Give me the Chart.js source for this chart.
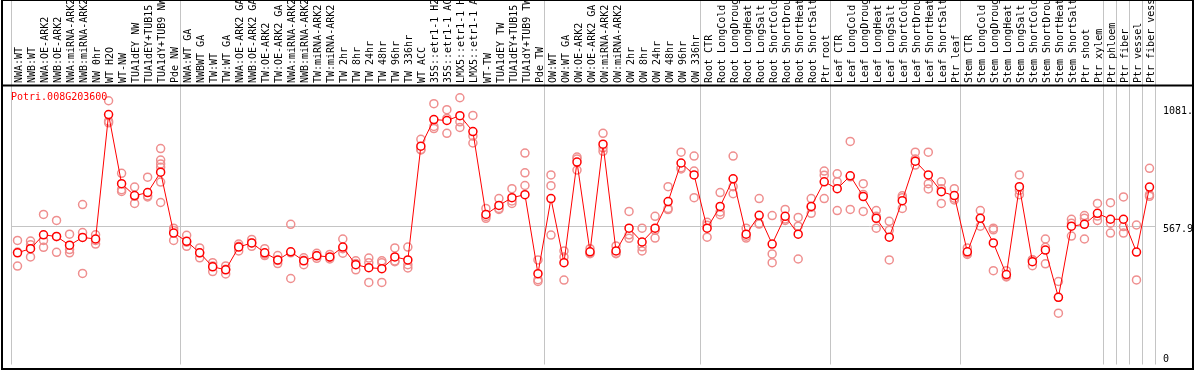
<!DOCTYPE html>
<html>
<head>
<meta charset="utf-8">
<script src="https://cdn.jsdelivr.net/npm/chart.js@4/dist/chart.umd.min.js"></script>
<style>
  html, body { margin: 0; padding: 0; background: #fff; }
</style>
</head>
<body>
<canvas id="exprChart" width="1194" height="370"></canvas>
<script>
const geneName = 'Potri.008G203600';

const categories = [
  'NWA:WT', 'NWB:WT', 'NWA:OE-ARK2', 'NWB:OE-ARK2', 'NWA:miRNA-ARK2', 'NWB:miRNA-ARK2',
  'NW 0hr', 'WT H2O', 'WT-NW', 'TUA1dEY NW', 'TUA1dEY+TUB15 NW', 'TUA1dY+TUB9 NW', 'Pde NW',
  'NWA:WT GA', 'NWBWT GA', 'TW:WT', 'TW:WT GA', 'NWA:OE-ARK2 GA', 'NWB:OE-ARK2 GA',
  'TW:OE-ARK2', 'TW:OE-ARK2 GA', 'NWA:miRNA-ARK2', 'NWB:miRNA-ARK2', 'TW:miRNA-ARK2',
  'TW:miRNA-ARK2', 'TW 2hr', 'TW 8hr', 'TW 24hr', 'TW 48hr', 'TW 96hr', 'TW 336hr', 'WT ACC',
  '35S::etr1-1 H2O', '35S::etr1-1 ACC', 'LMX5::etr1-1 H2O', 'LMX5::etr1-1 ACC', 'WT-TW',
  'TUA1dEY TW', 'TUA1dEY+TUB15 TW', 'TUA1dY+TUB9 TW', 'Pde TW',
  'OW:WT', 'OW:WT GA', 'OW:OE-ARK2', 'OW:OE-ARK2 GA', 'OW:miRNA-ARK2', 'OW:miRNA-ARK2',
  'OW 2hr', 'OW 8hr', 'OW 24hr', 'OW 48hr', 'OW 96hr', 'OW 336hr',
  'Root CTR', 'Root LongCold', 'Root LongDrought', 'Root LongHeat', 'Root LongSalt',
  'Root ShortCold', 'Root ShortDrought', 'Root ShortHeat', 'Root ShortSalt', 'Ptr root',
  'Leaf CTR', 'Leaf LongCold', 'Leaf LongDrought', 'Leaf LongHeat', 'Leaf LongSalt',
  'Leaf ShortCold', 'Leaf ShortDrought', 'Leaf ShortHeat', 'Leaf ShortSalt', 'Ptr leaf',
  'Stem CTR', 'Stem LongCold', 'Stem LongDrought', 'Stem LongHeat', 'Stem LongSalt',
  'Stem ShortCold', 'Stem ShortDrought', 'Stem ShortHeat', 'Stem ShortSalt', 'Ptr shoot',
  'Ptr xylem', 'Ptr phloem', 'Ptr fiber', 'Ptr vessel', 'Ptr fiber vessel'
];

// mean expression per sample
const meanValues = [
  452, 470, 530, 523, 485, 519, 512, 1054, 753, 701, 714, 803, 538,
  502, 452, 391, 378, 477, 495, 452, 421, 456, 417, 439, 434, 477, 400, 387, 383, 434, 421,
  916, 1032, 1028, 1049, 980, 619, 658, 692, 705, 361,
  688, 409, 847, 456, 925, 460, 559, 499, 559, 675, 843, 791,
  559, 654, 774, 533, 615, 490, 611, 533, 654, 761,
  731, 787, 697, 602, 520, 679, 851, 791, 718, 701,
  456, 602, 495, 357, 740, 413, 464, 258, 568, 576,
  624, 598, 598, 455, 738
];

// replicates
const rep1 = [
  506, 503, 619, 593, 533, 662, 530, 1114, 798, 738, 781, 906, 559,
  528, 473, 409, 395, 490, 510, 470, 440, 576, 430, 450, 445, 512, 417, 409, 409, 473, 477,
  946, 1101, 1075, 1127, 1050, 645, 688, 731, 886, 421,
  791, 460, 869, 470, 972, 482, 632, 559, 611, 740, 890, 873,
  585, 714, 873, 559, 688, 447, 641, 606, 688, 808,
  796, 937, 753, 636, 550, 645, 890, 890, 761, 731,
  473, 636, 559, 374, 791, 421, 512, 327, 598, 602,
  667, 670, 695, 573, 820
];
const rep2 = [
  394, 487, 506, 454, 466, 540, 506, 1025, 727, 667, 695, 856, 506,
  480, 430, 370, 360, 460, 480, 440, 405, 340, 400, 428, 425, 450, 378, 323, 323, 413, 400,
  900, 993, 972, 998, 960, 602, 645, 667, 800, 335,
  744, 434, 860, 450, 894, 450, 530, 460, 516, 645, 817, 808,
  572, 630, 740, 516, 580, 409, 593, 568, 624, 790,
  761, 783, 632, 559, 421, 700, 860, 753, 731, 690,
  445, 568, 374, 350, 705, 396, 404, 189, 581, 512,
  593, 581, 566, 334, 705
];
const rep3 = [
  455, 434, 476, 522, 452, 362, 490, 1018, 719, 698, 700, 839, 549,
  498, 452, 395, 380, 480, 495, 446, 418, 452, 420, 440, 432, 470, 405, 429, 417, 416, 386,
  902, 1002, 1037, 1022, 930, 610, 641, 678, 745, 327,
  529, 333, 812, 448, 909, 448, 515, 478, 550, 640, 822, 692,
  520, 618, 709, 524, 577, 614, 599, 425, 650, 688,
  636, 641, 706, 611, 589, 692, 834, 730, 667, 682,
  450, 602, 552, 347, 724, 422, 476, 258, 525, 614,
  612, 538, 538, null, 698
];
// extra replicates of the one sample with more than three
const extraRepCategory = 'TUA1dY+TUB9 NW';
const extraRepValues = [824, 760, 671];

const groupStarts = [0, 13, 41, 53, 63, 73, 84, 85, 86, 87];
const yTicks = [0, 567.9, 1081];
const yTickText = ['0', '567.9', '1081.'];

const MONO = 'DejaVu Sans Mono';
const GRID = '#c4c4c4';
const CLEAR = 'rgba(0,0,0,0)';
const REP_COLOR = '#ef8f8f';

function repDataset(data) {
  return {
    data: data,
    showLine: false,
    borderColor: REP_COLOR,
    backgroundColor: CLEAR,
    pointRadius: 4,
    pointBorderWidth: 1.5,
    pointBorderColor: REP_COLOR,
    pointBackgroundColor: CLEAR,
    order: 2
  };
}

const framePlugin = {
  id: 'frame',
  afterDraw(chart) {
    const ctx = chart.ctx;
    const top = chart.chartArea.top;
    ctx.save();
    // gene name in the top-left of the plot
    ctx.fillStyle = '#ff0000';
    ctx.font = '10px "' + MONO + '"';
    ctx.textBaseline = 'middle';
    ctx.fillText(geneName, 11, top + 11);
    // outer frame and header rule
    ctx.strokeStyle = '#000';
    ctx.lineWidth = 2;
    ctx.strokeRect(2, 0, 1191, 369);
    ctx.beginPath();
    ctx.moveTo(2, top - 0.5);
    ctx.lineTo(1193, top - 0.5);
    ctx.stroke();
    ctx.restore();
  }
};

const chart = new Chart(document.getElementById('exprChart'), {
  type: 'line',
  data: {
    labels: categories,
    datasets: [
      {
        data: meanValues,
        borderColor: '#ff0000',
        borderWidth: 1,
        pointRadius: 4,
        pointBorderWidth: 1.5,
        pointBorderColor: '#ff0000',
        pointBackgroundColor: '#ffffff',
        tension: 0,
        order: 1
      },
      repDataset(rep1),
      repDataset(rep2),
      repDataset(rep3),
      repDataset(extraRepValues.map(v => ({ x: extraRepCategory, y: v })))
    ]
  },
  options: {
    responsive: false,
    devicePixelRatio: 1,
    animation: false,
    layout: { padding: { left: 11, right: 0, top: 0, bottom: 2 } },
    plugins: {
      legend: { display: false },
      tooltip: { enabled: false },
      title: { display: false }
    },
    scales: {
      x: {
        type: 'category',
        position: 'top',
        offset: true,
        border: { display: false },
        grid: {
          offset: true,
          drawTicks: true,
          tickLength: 86,
          color: c => (c.type !== 'tick' || groupStarts.includes(c.index)) ? GRID : CLEAR,
          tickColor: c => (c.type !== 'tick' || groupStarts.includes(c.index)) ? GRID : CLEAR
        },
        ticks: {
          autoSkip: false,
          minRotation: 90,
          maxRotation: 90,
          padding: -83,
          labelOffset: 14,
          color: '#000',
          font: { family: MONO, size: 10 }
        },
        afterFit: s => { s.height = 86; s.paddingLeft = 0; s.paddingRight = 0; }
      },
      y: {
        position: 'right',
        min: -34.4,
        max: 1178.2,
        border: { display: false },
        afterBuildTicks: s => { s.ticks = yTicks.map(v => ({ value: v })); },
        grid: {
          drawTicks: true,
          tickLength: 7,
          tickColor: CLEAR,
          color: c => (c.tick && c.tick.value === 567.9) ? GRID : CLEAR
        },
        ticks: {
          padding: 0,
          labelOffset: 3,
          color: '#000',
          font: { family: MONO, size: 10 },
          callback: (v, i) => yTickText[i]
        },
        afterFit: s => { s.width = 38; s.paddingTop = 0; s.paddingBottom = 0; }
      }
    }
  },
  plugins: [framePlugin]
});
</script>
</body>
</html>
